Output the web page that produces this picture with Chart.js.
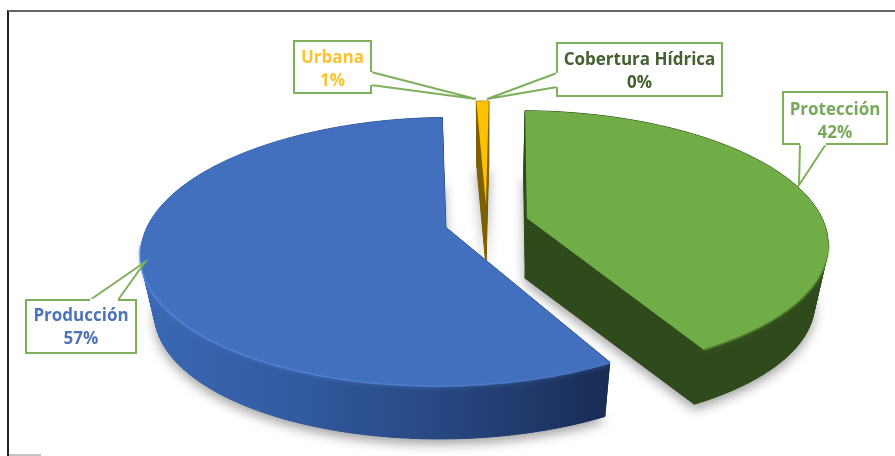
<!DOCTYPE html>
<html>
<head>
<meta charset="utf-8">
<style>
  html, body { margin: 0; padding: 0; background: #fff; overflow: hidden; }
  #caja { position: relative; width: 895px; height: 456px; }
  #marco { position: absolute; left: 7px; top: 10px; right: 0; bottom: 0; border-left: 2px solid #222; border-top: 2px solid #666; }
  #resto { position: absolute; left: 9px; top: 454px; width: 32px; height: 2px; background: #c4c4c4; }
  canvas { position: absolute; left: 0; top: 0; }
</style>
</head>
<body>
<div id="caja">
  <div id="marco"></div>
  <div id="resto"></div>
  <canvas id="myChart" width="895" height="456"></canvas>
</div>
<script src="https://cdn.jsdelivr.net/npm/chart.js@4"></script>
<script>
const categorias = ['Protección', 'Producción', 'Urbana', 'Cobertura Hídrica'];
const valores = [41.7, 57.4, 0.8, 0.1];
const coloresCara = ['#70ad47', '#4270be', '#ffc000', '#264478'];
const coloresTexto = ['#78a95a', '#4d74b8', '#fcc330', '#44602f'];

// recuadros de las etiquetas: caja, base del puntero, punta y ajuste del texto
const recuadros = [
    { x: 783, y: 92, w: 104, h: 52, base: [[800, 144], [826, 144]], punta: [799, 185], dy: 2.5 },
    { x: 26, y: 300, w: 110, h: 53, base: [[118, 300], [90, 300]], punta: [145, 262], dy: 1 },
    { x: 294, y: 41, w: 77, h: 52, base: [[371, 72], [371, 85]], punta: [476, 99], dy: 2 },
    { x: 557, y: 43, w: 165, h: 53, base: [[557, 87], [557, 73]], punta: [487, 99], dy: 2 }
];

// perspectiva del disco
const cam = { xc: 486.5, yc: 222.5, a: 297, b: 128, k: 0.178, alto: 60, esc: 0.96 };

function proyectar(u, v, abajo) {
    const w = 1 - cam.k * v;
    let x = cam.a * u / w;
    let y = cam.b * v / w;
    if (abajo) {
        x *= cam.esc;
        y = y * cam.esc + cam.alto;
    }
    return [cam.xc + x, cam.yc + y];
}

function puntosArco(arc, abajo) {
    const R = arc.outerRadius;
    const medio = (arc.startAngle + arc.endAngle) / 2;
    const ox = arc.options.offset * Math.cos(medio) / R;
    const oy = arc.options.offset * Math.sin(medio) / R;
    const pasos = Math.max(2, Math.ceil((arc.endAngle - arc.startAngle) * 40));
    const pts = [];
    for (let i = 0; i <= pasos; i++) {
        const t = arc.startAngle + (arc.endAngle - arc.startAngle) * i / pasos;
        pts.push(proyectar(ox + Math.cos(t), oy + Math.sin(t), abajo));
    }
    return { centro: proyectar(ox, oy, abajo), borde: pts };
}

function trazar(ctx, pts) {
    ctx.beginPath();
    pts.forEach((p, i) => i ? ctx.lineTo(p[0], p[1]) : ctx.moveTo(p[0], p[1]));
    ctx.closePath();
}

function colorLateral(ctx, i) {
    if (i === 1) {
        const g = ctx.createLinearGradient(142, 0, 612, 0);
        g.addColorStop(0, '#3a69b4');
        g.addColorStop(0.35, '#31599e');
        g.addColorStop(0.65, '#274680');
        g.addColorStop(1, '#182c54');
        return g;
    }
    if (i === 0) return '#2f4a1b';
    return '#7f6000';
}

const pie3d = {
    id: 'pie3d',
    beforeDatasetsDraw(chart) {
        const ctx = chart.ctx;
        const arcos = chart.getDatasetMeta(0).data;
        const visibles = arcos.map((arc, i) => ({ arc, i })).filter(o => o.i < 3);

        // sombra bajo el disco
        ctx.save();
        ctx.shadowColor = 'rgba(0,0,0,0.38)';
        ctx.shadowBlur = 12;
        ctx.shadowOffsetY = 5;
        visibles.forEach(({ arc }) => {
            const b = puntosArco(arc, true);
            trazar(ctx, [b.centro, ...b.borde]);
            ctx.fillStyle = '#555';
            ctx.fill();
        });
        ctx.restore();

        // paredes
        visibles.forEach(({ arc, i }) => {
            const t = puntosArco(arc, false);
            const b = puntosArco(arc, true);
            const arriba = [t.centro, ...t.borde];
            const debajo = [b.centro, ...b.borde];
            const color = colorLateral(ctx, i);
            ctx.fillStyle = color;
            ctx.strokeStyle = color;
            ctx.lineWidth = 1;
            trazar(ctx, debajo);
            ctx.fill();
            for (let n = 0; n < arriba.length; n++) {
                const m = (n + 1) % arriba.length;
                trazar(ctx, [arriba[n], arriba[m], debajo[m], debajo[n]]);
                ctx.fill();
                ctx.stroke();
            }
        });

        // caras superiores, con brillo solo en el borde delantero
        visibles.forEach(({ arc, i }) => {
            const t = puntosArco(arc, false);
            const cara = [t.centro, ...t.borde];
            if (i < 2) {
                const delante = t.borde.filter(p => p[1] > cam.yc + 20);
                ctx.save();
                ctx.beginPath();
                delante.forEach((p, n) => n ? ctx.lineTo(p[0], p[1]) : ctx.moveTo(p[0], p[1]));
                ctx.strokeStyle = i === 1 ? 'rgba(90,140,225,0.7)' : 'rgba(112,173,71,0.5)';
                ctx.lineWidth = 3;
                ctx.shadowColor = ctx.strokeStyle;
                ctx.shadowBlur = 4;
                ctx.stroke();
                ctx.restore();
            }
            trazar(ctx, cara);
            ctx.fillStyle = arc.options.backgroundColor;
            ctx.fill();
        });

        dibujarRecuadros(ctx);
        return false;
    }
};

function dibujarRecuadros(ctx) {
    recuadros.forEach((r, i) => {
        ctx.beginPath();
        ctx.rect(r.x, r.y, r.w, r.h);
        ctx.fillStyle = '#fff';
        ctx.fill();
        ctx.strokeStyle = '#7eb05b';
        ctx.lineWidth = 2;
        ctx.stroke();

        // puntero
        ctx.beginPath();
        ctx.moveTo(r.base[0][0], r.base[0][1]);
        ctx.lineTo(r.punta[0], r.punta[1]);
        ctx.lineTo(r.base[1][0], r.base[1][1]);
        ctx.closePath();
        ctx.fill();
        ctx.beginPath();
        ctx.moveTo(r.base[0][0], r.base[0][1]);
        ctx.lineTo(r.punta[0], r.punta[1]);
        ctx.lineTo(r.base[1][0], r.base[1][1]);
        ctx.stroke();
        ctx.strokeStyle = '#fff';
        ctx.lineWidth = 2.5;
        ctx.beginPath();
        ctx.moveTo(r.base[0][0], r.base[0][1]);
        ctx.lineTo(r.base[1][0], r.base[1][1]);
        ctx.stroke();

        ctx.fillStyle = coloresTexto[i];
        ctx.font = 'bold 17px "Open Sans"';
        ctx.textAlign = 'center';
        ctx.textBaseline = 'middle';
        ctx.fillText(categorias[i], r.x + r.w / 2, r.y + 15.5 + r.dy);
        ctx.fillText(Math.round(valores[i]) + '%', r.x + r.w / 2, r.y + 38.5 + r.dy);
    });
}

const myChart = new Chart(document.getElementById('myChart').getContext('2d'), {
    type: 'pie',
    data: {
        labels: categorias,
        datasets: [{
            data: valores,
            backgroundColor: coloresCara,
            borderWidth: 0,
            offset: 30
        }]
    },
    options: {
        responsive: false,
        animation: false,
        rotation: 1,
        plugins: {
            legend: { display: false },
            tooltip: { enabled: false }
        }
    },
    plugins: [pie3d]
});
</script>
</body>
</html>
